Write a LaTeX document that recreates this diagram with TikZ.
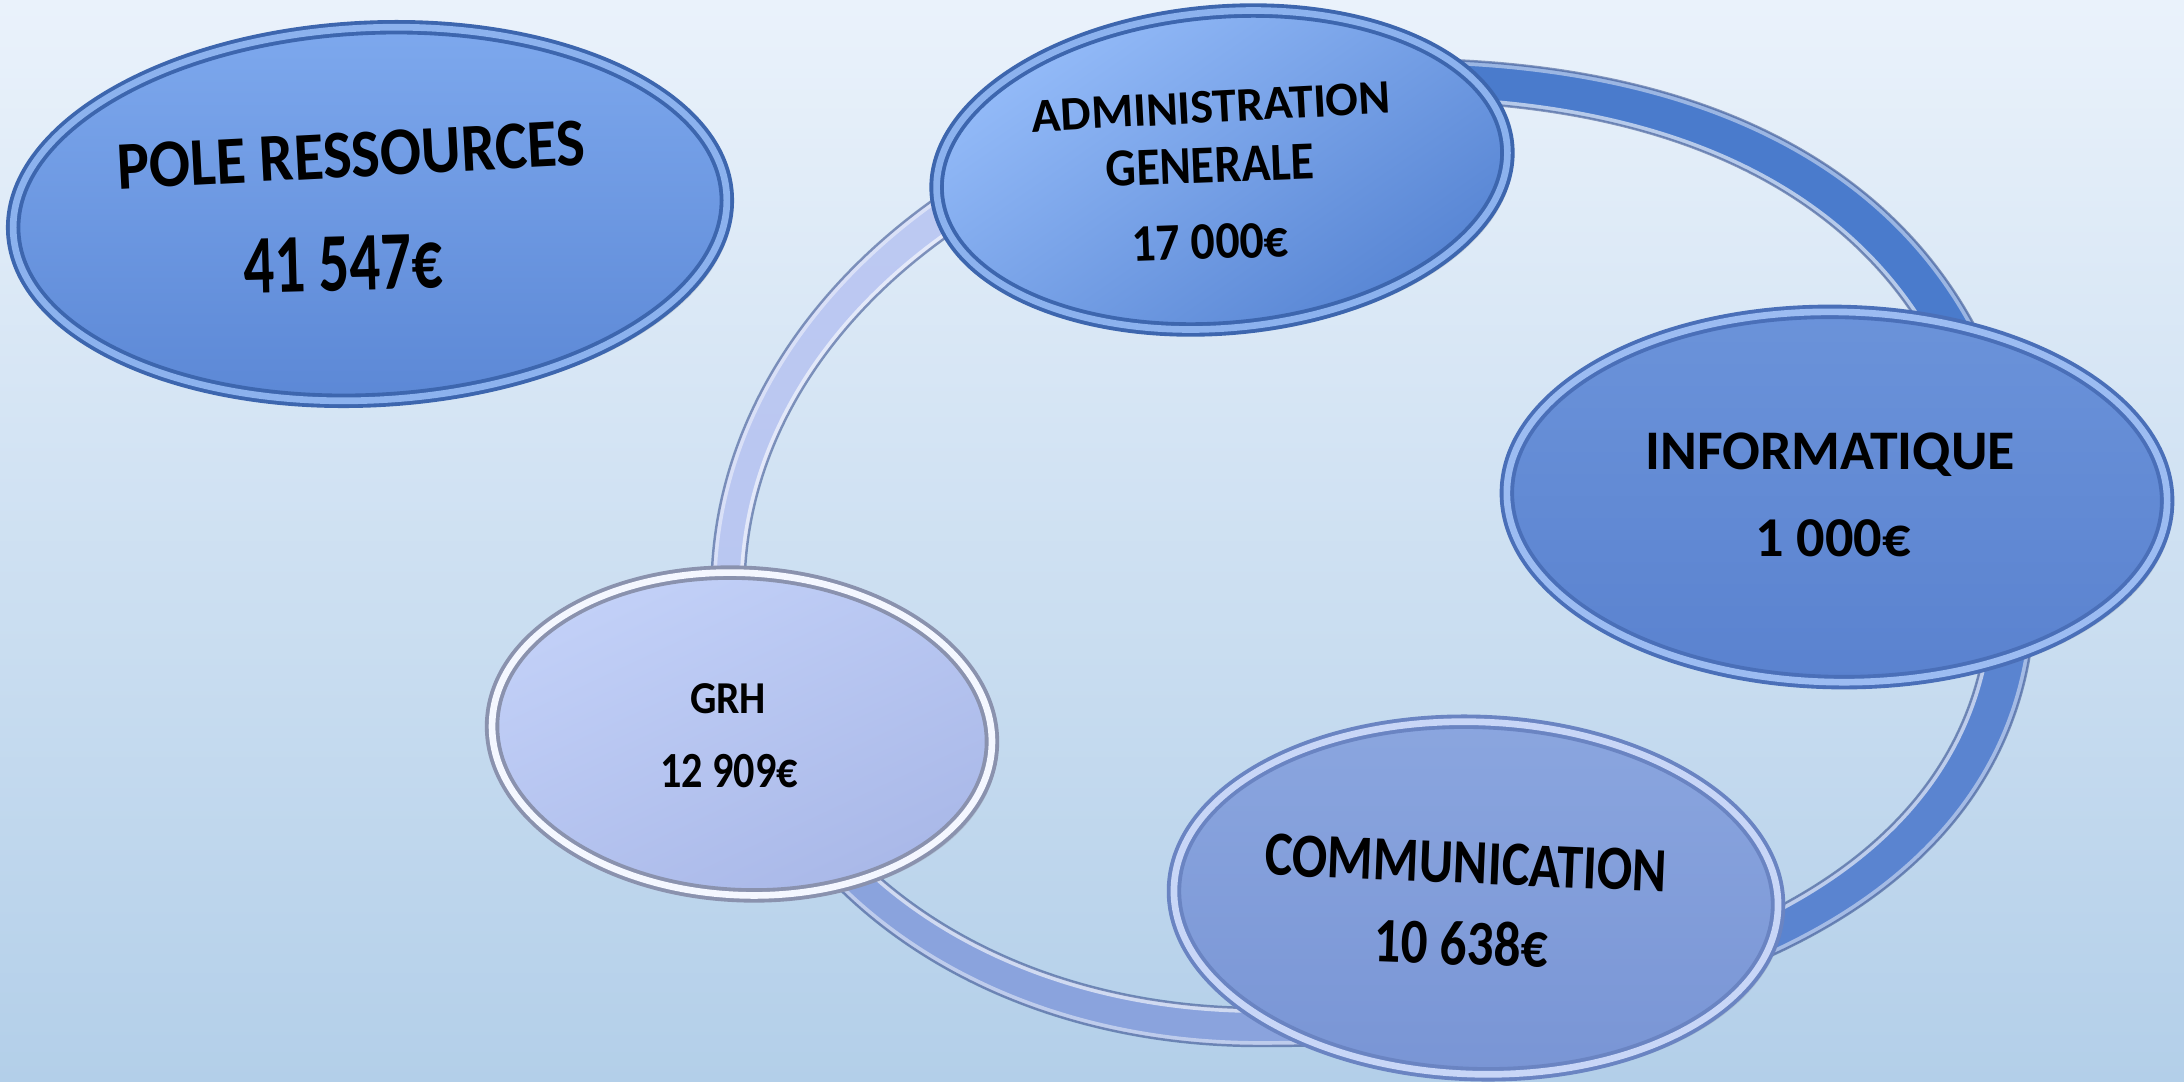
\documentclass[tikz,border=0pt]{standalone}
\usepackage{fontspec}
\setmainfont{Carlito}
\usepackage{graphicx}
\usetikzlibrary{shapes.geometric,shadows}
\definecolor{bgtop}{HTML}{EAF2FB}
\definecolor{bgbot}{HTML}{B3CFE9}
\definecolor{ringLt}{HTML}{C4CFF5}
\definecolor{ringLb}{HTML}{B5C3EF}
\definecolor{ringTR}{HTML}{4A7BCC}
\definecolor{ringR}{HTML}{5A84D0}
\definecolor{ringB}{HTML}{8AA3DD}
\definecolor{ringEdge}{HTML}{2E4A8A}
\definecolor{poleT}{HTML}{7EA9EE}
\definecolor{poleB}{HTML}{5B87D5}
\definecolor{poleRim}{HTML}{3D66AE}
\definecolor{poleHi}{HTML}{8CB2EE}
\definecolor{admT}{HTML}{96BDFA}
\definecolor{admB}{HTML}{5583D2}
\definecolor{infT}{HTML}{6B93DA}
\definecolor{infB}{HTML}{5A82CF}
\definecolor{infRim}{HTML}{4A6FB8}
\definecolor{infHi}{HTML}{9CBCF2}
\definecolor{grhT}{HTML}{C3D1F8}
\definecolor{grhB}{HTML}{A9B8E8}
\definecolor{grhRim}{HTML}{8A92AE}
\definecolor{grhHi}{HTML}{F4F7FF}
\definecolor{comT}{HTML}{8BA6DF}
\definecolor{comB}{HTML}{7995D5}
\definecolor{comRim}{HTML}{6A84C2}
\definecolor{comHi}{HTML}{C8D6F7}
\newcommand{\mylbl}[3]{\fontsize{#1}{#1}\selectfont\scalebox{1}[#2]{#3}}
\tikzset{
  bub/.style={ellipse, inner sep=0pt, line width=1.1pt, double distance=1.9pt,
    drop shadow={shadow xshift=1.6pt, shadow yshift=-1.6pt, opacity=0.22}},
  txt/.style={inner sep=0pt, font=\bfseries, text=black}
}
\begin{document}
\begin{tikzpicture}[x=0.01cm, y=-0.01cm]
\useasboundingbox (0,0) rectangle (2184,1081);
\shade[top color=bgtop, bottom color=bgbot] (0,0) rectangle (2184,1081);

% ring (band between an outer and an inner closed curve)
\coordinate (C) at (1380,560);
\begin{scope}[even odd rule]
  \clip (1400,59) .. controls (1806,59) and (2035,251) .. (2035,590)
        .. controls (2035,876) and (1746,1046) .. (1260,1046)
        .. controls (948,1046) and (711.5,849.5) .. (711.5,590)
        .. controls (711.5,297) and (1020,59) .. (1400,59) -- cycle
        (1400,101) .. controls (1776,101) and (1989,277.5) .. (1989,590)
        .. controls (1989,852) and (1717,1008) .. (1260,1008)
        .. controls (967,1008) and (744.5,828) .. (744.5,590)
        .. controls (744.5,320) and (1038,101) .. (1400,101) -- cycle;
  \shade[top color=ringLt, bottom color=ringLb] (C) -- (-534,1082) -- (-700,-700) -- (912,-604) -- cycle;
  \fill[ringTR] (C) -- (912,-604) -- (2900,-700) -- (2751,371) -- cycle;
  \fill[ringR] (C) -- (2751,371) -- (2900,1700) -- (1668,1574) -- cycle;
  \fill[ringB] (C) -- (1668,1574) -- (-700,1700) -- (-534,1082) -- cycle;
  \draw[white, opacity=0.45, line width=2.8pt]
        (1400,59) .. controls (1806,59) and (2035,251) .. (2035,590)
        .. controls (2035,876) and (1746,1046) .. (1260,1046)
        .. controls (948,1046) and (711.5,849.5) .. (711.5,590)
        .. controls (711.5,297) and (1020,59) .. (1400,59) -- cycle;
  \draw[white, opacity=0.6, line width=2.8pt]
        (1400,101) .. controls (1776,101) and (1989,277.5) .. (1989,590)
        .. controls (1989,852) and (1717,1008) .. (1260,1008)
        .. controls (967,1008) and (744.5,828) .. (744.5,590)
        .. controls (744.5,320) and (1038,101) .. (1400,101) -- cycle;
\end{scope}
\draw[ringEdge, opacity=0.55, line width=0.7pt]
        (1400,59) .. controls (1806,59) and (2035,251) .. (2035,590)
        .. controls (2035,876) and (1746,1046) .. (1260,1046)
        .. controls (948,1046) and (711.5,849.5) .. (711.5,590)
        .. controls (711.5,297) and (1020,59) .. (1400,59) -- cycle
        (1400,101) .. controls (1776,101) and (1989,277.5) .. (1989,590)
        .. controls (1989,852) and (1717,1008) .. (1260,1008)
        .. controls (967,1008) and (744.5,828) .. (744.5,590)
        .. controls (744.5,320) and (1038,101) .. (1400,101) -- cycle;

% bubbles
\node[bub, minimum width=7.14cm, minimum height=3.72cm, rotate=3,
  top color=poleT, bottom color=poleB, draw=poleRim, double=poleHi] (pole) at (370,214) {};
\node[bub, minimum width=5.72cm, minimum height=3.16cm, rotate=5,
  top color=admT, bottom color=admB, shading angle=35, draw=poleRim, double=poleHi] (adm) at (1222,170) {};
\node[bub, minimum width=6.60cm, minimum height=3.70cm, rotate=-1,
  top color=infT, bottom color=infB, draw=infRim, double=infHi] (inf) at (1837,497) {};
\node[bub, minimum width=5.00cm, minimum height=3.22cm, rotate=-3,
  top color=grhT, bottom color=grhB, shading angle=25, draw=grhRim, double=grhHi] (grh) at (742,734) {};
\node[bub, minimum width=6.04cm, minimum height=3.52cm, rotate=-2,
  top color=comT, bottom color=comB, draw=comRim, double=comHi] (com) at (1476,898) {};

% texts
\node[txt, rotate=3] (poleA) at (351,155) {\mylbl{17.3}{1.12}{POLE RESSOURCES}};
\node[txt, rotate=1.5] (poleB) at (343,264) {\mylbl{17.3}{1.37}{41 547€}};
\node[txt, rotate=3] (admA) at (1211,107) {\mylbl{13.7}{1.0}{ADMINISTRATION}};
\node[txt, rotate=2.2] (admB) at (1210,165) {\mylbl{13.6}{1.12}{GENERALE}};
\node[txt, rotate=2] (admC) at (1210,242) {\mylbl{13.6}{1.1}{17 000€}};
\node[txt] (infA) at (1830,455) {\mylbl{15.9}{1.0}{INFORMATIQUE}};
\node[txt] (infB) at (1833,538) {\mylbl{16}{1.0}{1 000€}};
\node[txt] (grhA) at (728,699) {\mylbl{11.8}{1.1}{GRH}};
\node[txt] (grhB) at (729,771) {\mylbl{12}{1.2}{12 909€}};
\node[txt, rotate=-2.4] (comA) at (1466,863) {\mylbl{14.9}{1.2}{COMMUNICATION}};
\node[txt, rotate=-2] (comB) at (1461,943) {\mylbl{15.1}{1.2}{10 638€}};
\end{tikzpicture}
\end{document}
